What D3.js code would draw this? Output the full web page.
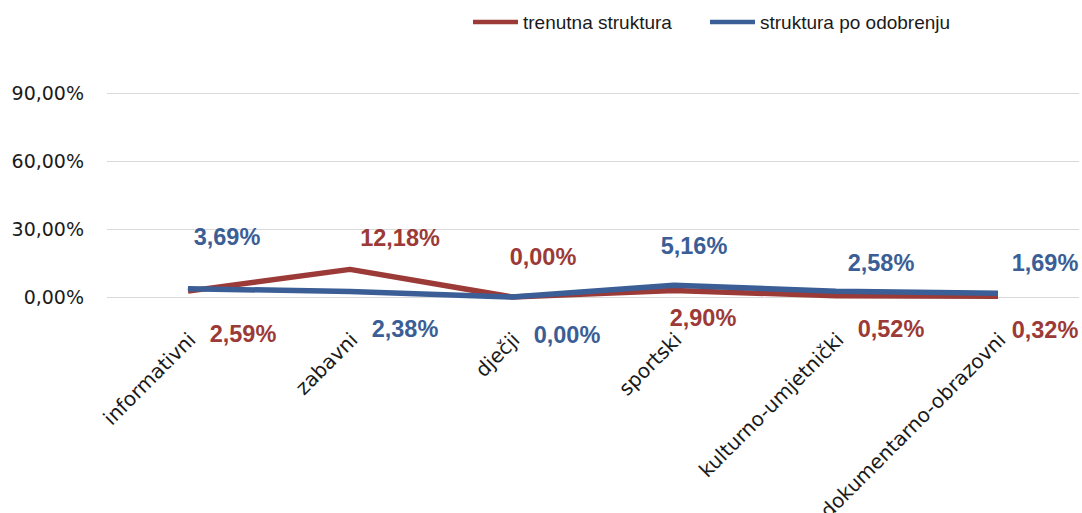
<!DOCTYPE html>
<html><head><meta charset="utf-8">
<script src="https://cdn.jsdelivr.net/npm/d3@7"></script>
<style>body{margin:0;background:#fff}svg{display:block}</style>
</head><body><svg id="c" width="1082" height="513"></svg>
<script>
const categories = ["informativni","zabavni","dječji","sportski","kulturno-umjetnički","dokumentarno-obrazovni"];
const seriesNames = ["trenutna struktura","struktura po odobrenju"];
const trenutna = [2.59, 12.18, 0.00, 2.90, 0.52, 0.32];
const odobrenje = [3.69, 2.38, 0.00, 5.16, 2.58, 1.69];
const yTicks = [0, 30, 60, 90];
// label placement offsets (layout only)
const offTrenutna = [[55,42],[50,-32],[31,-40],[29,27],[55,33],[47,33]];
const offOdobrenje = [[39,-52],[55,37],[55,38],[20,-40],[45,-29],[47,-31]];

const colors = ["#9B3A37","#3A5E95"];
const svg = d3.select("#c");
const x = d3.scaleBand().domain(categories).range([107,1079]);
const y = d3.scaleLinear().domain([0,90]).range([297,93]);
const fmt = v => v.toFixed(2).replace(".", ",") + "%";

// gridlines
svg.append("g").selectAll("line").data(yTicks).join("line")
  .attr("x1",107).attr("x2",1079)
  .attr("y1",d=>y(d)+0.5).attr("y2",d=>y(d)+0.5)
  .attr("stroke","#d9d9d9").attr("stroke-width",1);

// y axis
const yAxis = d3.axisLeft(y).tickValues(yTicks).tickSize(0).tickPadding(0).tickFormat(fmt);
const ga = svg.append("g").attr("transform","translate(84,0)").call(yAxis);
ga.select(".domain").remove();
ga.selectAll("text").attr("font-family","DejaVu Sans").attr("font-size",19).attr("fill","#1a1a1a");

// x labels
svg.append("g").selectAll("text").data(categories).join("text")
  .attr("transform",d=>`translate(${x(d)+x.bandwidth()/2+9},${341}) rotate(-45)`)
  .attr("text-anchor","end")
  .attr("font-family","DejaVu Sans").attr("font-size",20).attr("fill","#1a1a1a")
  .text(d=>d);

const series = [trenutna, odobrenje];
const offsets = [offTrenutna, offOdobrenje];
const line = d3.line().x((d,i)=>x(categories[i])+x.bandwidth()/2).y(d=>y(d));
series.forEach((s,k)=>{
  svg.append("path").datum(s).attr("d",line).attr("fill","none")
    .attr("stroke",colors[k]).attr("stroke-width",5.5).attr("stroke-linejoin","round").attr("stroke-linecap","butt");
});
series.forEach((s,k)=>{
  svg.append("g").selectAll("text").data(s).join("text")
    .attr("x",(d,i)=>x(categories[i])+x.bandwidth()/2+offsets[k][i][0])
    .attr("y",(d,i)=>y(d)+offsets[k][i][1])
    .attr("dy","0.36em").attr("text-anchor","middle")
    .attr("font-family","Liberation Sans").attr("font-weight","bold").attr("font-size",23.5)
    .attr("fill",colors[k]).text(d=>fmt(d));
});

// legend
const lg = svg.append("g");
const legX = [473, 710];
seriesNames.forEach((n,k)=>{
  lg.append("line").attr("x1",legX[k]).attr("x2",legX[k]+45).attr("y1",22).attr("y2",22)
    .attr("stroke",colors[k]).attr("stroke-width",4.5);
  lg.append("text").attr("x",legX[k]+50).attr("y",22).attr("dy","0.35em")
    .attr("font-family","Liberation Sans").attr("font-size",19).attr("fill","#1a1a1a").text(n);
});
</script></body></html>
